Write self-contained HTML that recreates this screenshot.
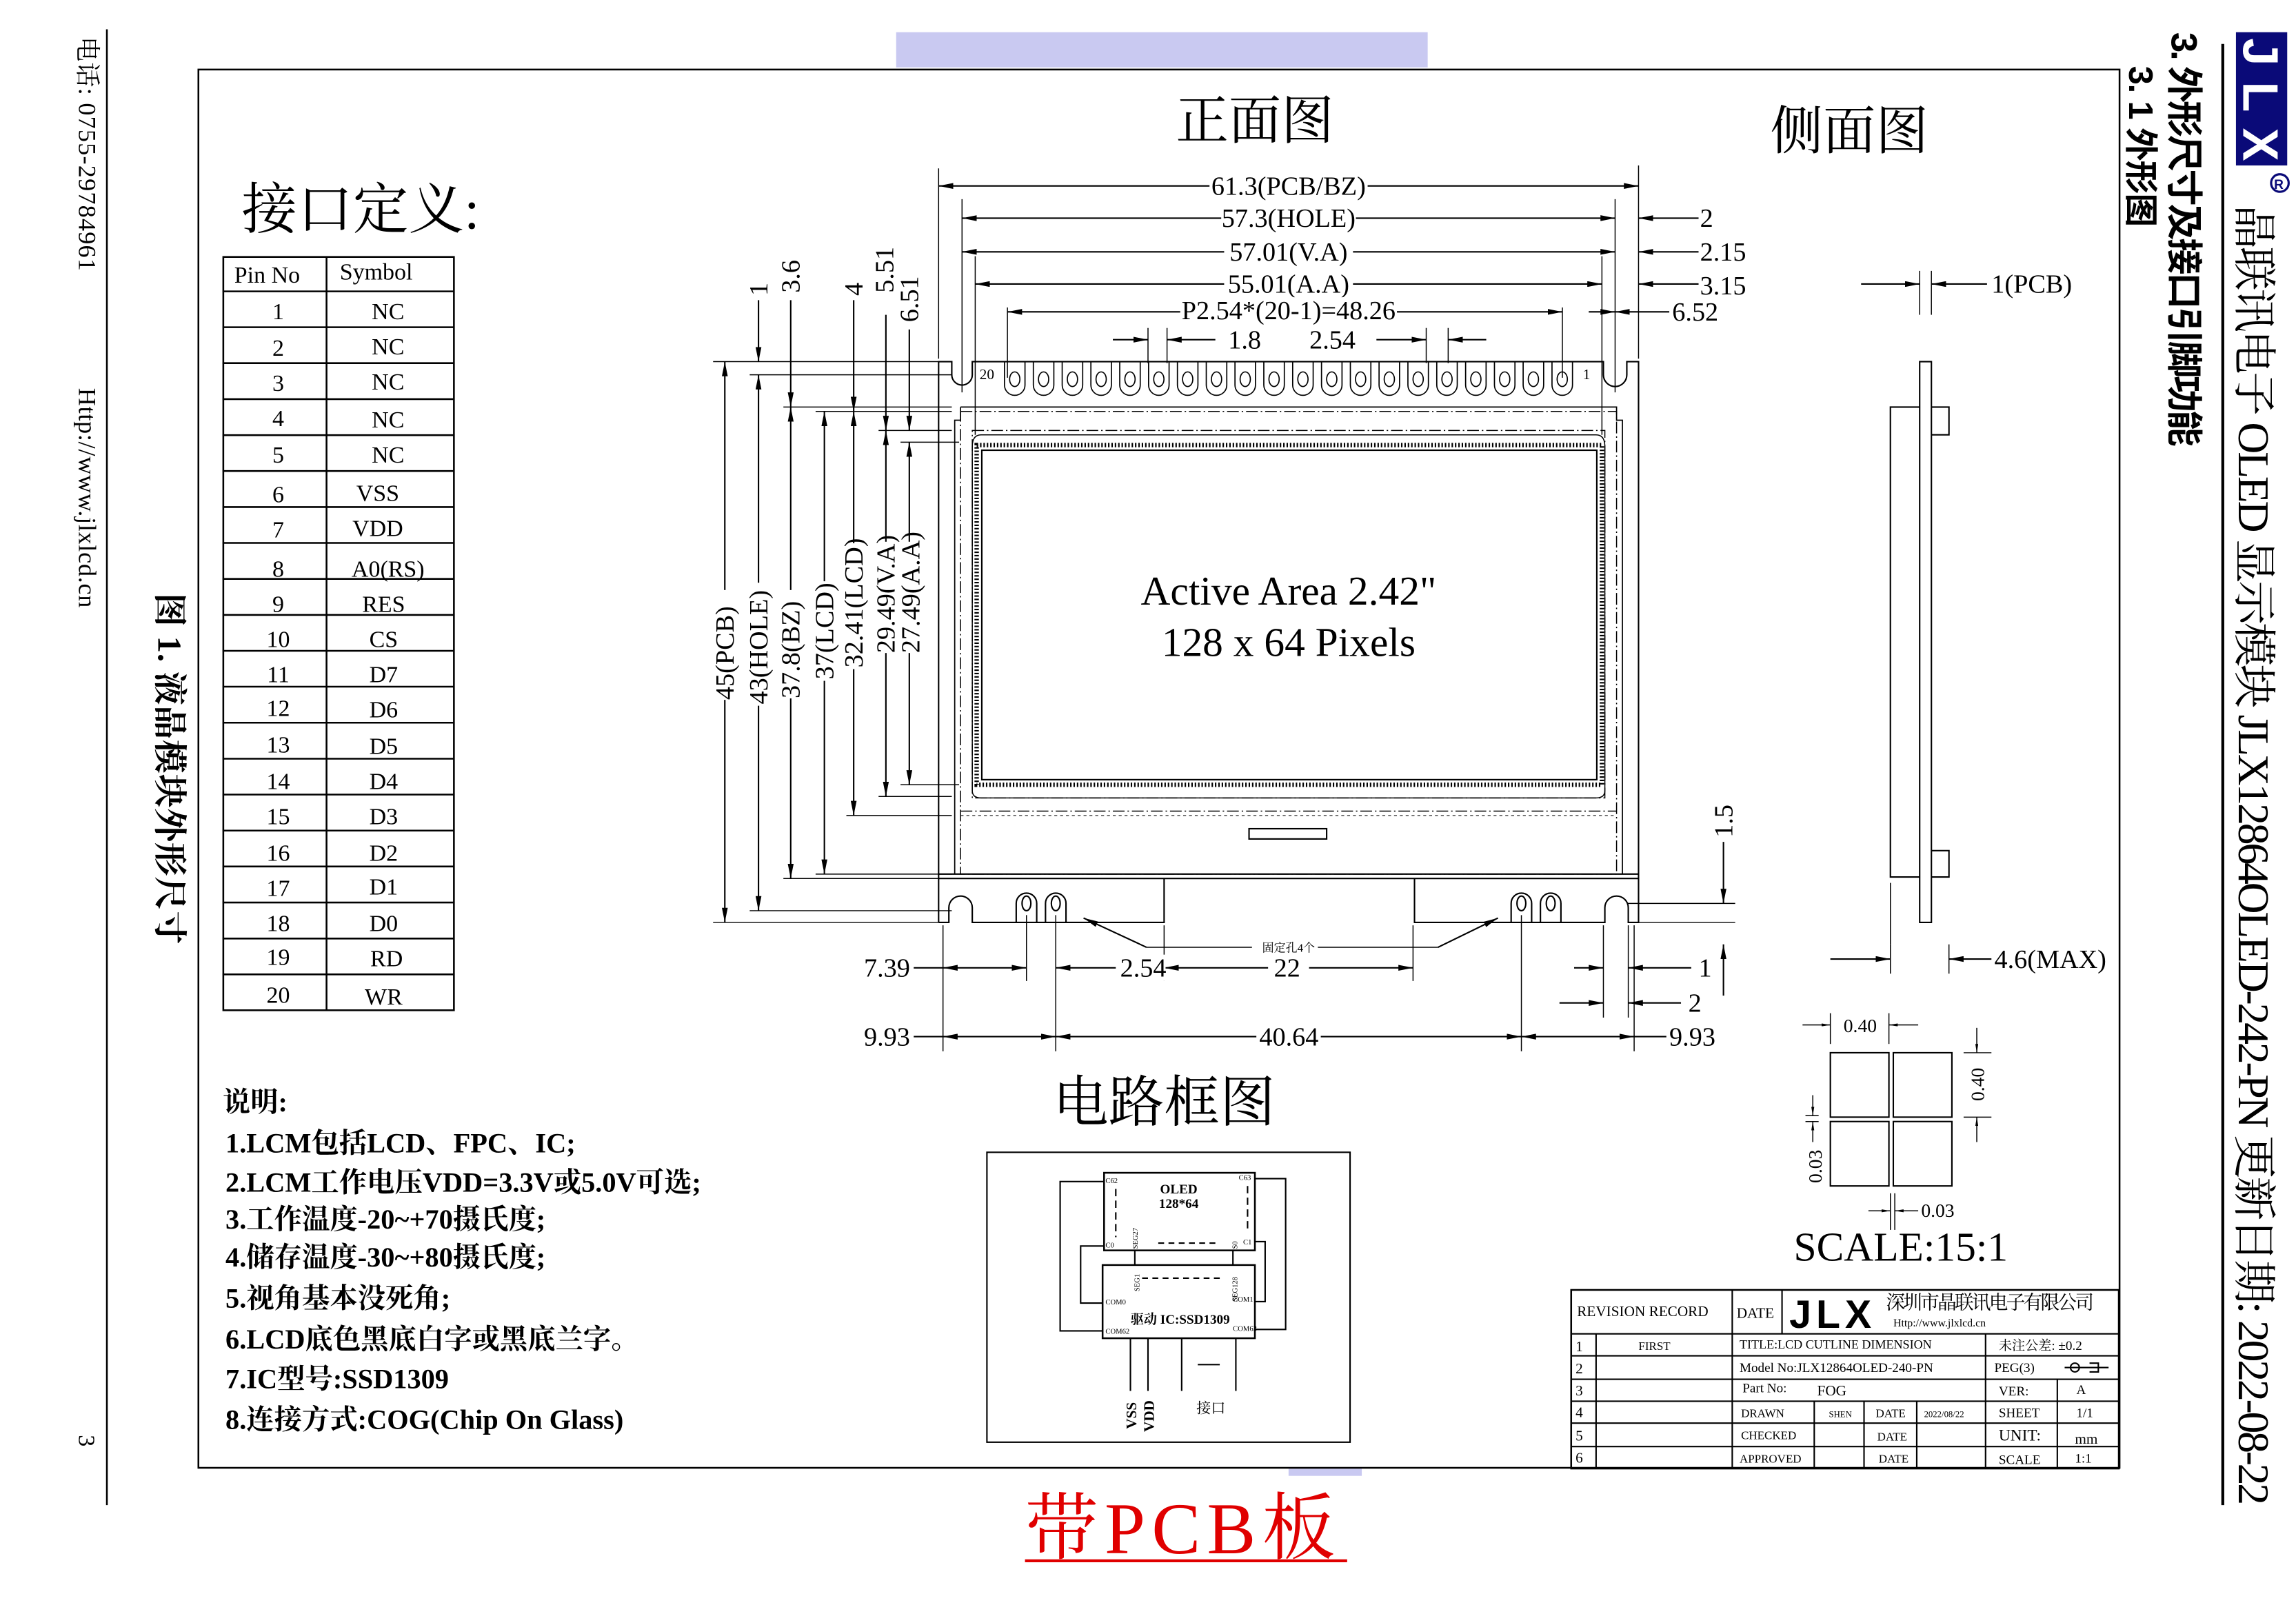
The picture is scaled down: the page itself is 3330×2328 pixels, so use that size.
<!DOCTYPE html>
<html><head><meta charset="utf-8"><style>
html,body{margin:0;padding:0;background:#fff;}
svg{display:block;}
text{font-family:"Liberation Serif","Noto Serif CJK SC",serif;fill:#000;}
.cj{font-family:"Liberation Serif","Noto Serif CJK SC",serif;}
.sa{font-family:"Liberation Sans","Noto Sans CJK SC",sans-serif;}
</style></head><body>
<svg width="3330" height="2328" viewBox="0 0 1568 1096.2" preserveAspectRatio="none" xmlns="http://www.w3.org/2000/svg">
<defs>
<marker id="a" viewBox="0 0 10 4" refX="10" refY="2" markerWidth="10" markerHeight="4" orient="auto-start-reverse" markerUnits="userSpaceOnUse"><path d="M0,0L10,2L0,4z"/></marker>
<marker id="s" viewBox="0 0 6 2" refX="6" refY="1" markerWidth="6" markerHeight="2" orient="auto-start-reverse" markerUnits="userSpaceOnUse"><path d="M0,0L6,1L0,2z"/></marker>
<g id="pin" fill="none" stroke="#000" stroke-width="0.8"><path d="M-7,247V263A7,7 0 0 0 7,263V247"/><ellipse cx="0" cy="259" rx="3.5" ry="5"/></g>
</defs>
<rect width="1568" height="1096.2" fill="#fff"/>
<rect x="612" y="22" width="363" height="24" fill="#c9c9f1"/>
<rect x="880" y="1003" width="50" height="5" fill="#c9c9f1"/>
<rect x="135.5" y="47.5" width="1312" height="955" fill="none" stroke="#000" stroke-width="1.2"/>
<line x1="73" y1="20" x2="73" y2="1028" stroke="#000" stroke-width="1.2"/>
<line x1="1518" y1="30" x2="1518" y2="1028" stroke="#000" stroke-width="2"/>

<text transform="translate(54,25) rotate(90)" font-size="17" textLength="160" class="cj">电话: 0755-29784961</text>
<text transform="translate(54,265) rotate(90)" font-size="17" textLength="150">Http://www.jlxlcd.cn</text>
<text transform="translate(54,980) rotate(90)" font-size="16">3</text>
<text transform="translate(108,405) rotate(90)" font-size="23" font-weight="bold" textLength="240" class="cj">图 1. 液晶模块外形尺寸</text>

<rect x="1527" y="22" width="35" height="91" fill="#0a0a78"/>
<text transform="translate(1532,26) rotate(90)" font-size="34" font-weight="bold" class="sa" style="fill:#fff" textLength="84">JLX</text>
<circle cx="1557" cy="125" r="6" fill="none" stroke="#0a0a78" stroke-width="1.5"/>
<text x="1553" y="129" font-size="9" font-weight="bold" style="fill:#0a0a78" class="sa">R</text>
<text transform="translate(1529,140) rotate(90)" font-size="30" textLength="888" class="cj">晶联讯电子 OLED 显示模块 JLX12864OLED-242-PN 更新日期: 2022-08-22</text>
<text transform="translate(1483,22) rotate(90)" font-size="25" font-weight="bold" textLength="283" class="sa">3. 外形尺寸及接口引脚功能</text>
<text transform="translate(1454,45) rotate(90)" font-size="23" font-weight="bold" textLength="110" class="sa">3. 1 外形图</text>

<text x="165" y="156" font-size="38" class="cj">接口定义:</text>
<g stroke="#000" stroke-width="1.2" fill="none">
<rect x="152.5" y="175.5" width="157.5" height="514.5"/>
<line x1="223" y1="175" x2="223" y2="690"/>
<line x1="152" y1="199" x2="310" y2="199"/>
<line x1="152" y1="223.5" x2="310" y2="223.5"/><line x1="152" y1="248" x2="310" y2="248"/><line x1="152" y1="272.6" x2="310" y2="272.6"/><line x1="152" y1="297.2" x2="310" y2="297.2"/><line x1="152" y1="321.7" x2="310" y2="321.7"/><line x1="152" y1="346.3" x2="310" y2="346.3"/><line x1="152" y1="370.8" x2="310" y2="370.8"/><line x1="152" y1="395.4" x2="310" y2="395.4"/><line x1="152" y1="420" x2="310" y2="420"/><line x1="152" y1="444.5" x2="310" y2="444.5"/><line x1="152" y1="469" x2="310" y2="469"/><line x1="152" y1="493.6" x2="310" y2="493.6"/><line x1="152" y1="518.2" x2="310" y2="518.2"/><line x1="152" y1="542.7" x2="310" y2="542.7"/><line x1="152" y1="567.3" x2="310" y2="567.3"/><line x1="152" y1="591.8" x2="310" y2="591.8"/><line x1="152" y1="616.4" x2="310" y2="616.4"/><line x1="152" y1="641" x2="310" y2="641"/><line x1="152" y1="665.5" x2="310" y2="665.5"/>
</g>
<g font-size="16">
<text x="160" y="193">Pin No</text><text x="232" y="191">Symbol</text>
</g>
<g font-size="16" text-anchor="middle">
<text x="190" y="218">1</text><text x="265" y="218">NC</text>
<text x="190" y="243">2</text><text x="265" y="242">NC</text>
<text x="190" y="267">3</text><text x="265" y="266">NC</text>
<text x="190" y="291">4</text><text x="265" y="292">NC</text>
<text x="190" y="316">5</text><text x="265" y="316">NC</text>
<text x="190" y="343">6</text><text x="258" y="342">VSS</text>
<text x="190" y="367">7</text><text x="258" y="366">VDD</text>
<text x="190" y="394">8</text><text x="265" y="394">A0(RS)</text>
<text x="190" y="418">9</text><text x="262" y="418">RES</text>
<text x="190" y="442">10</text><text x="262" y="442">CS</text>
<text x="190" y="466">11</text><text x="262" y="466">D7</text>
<text x="190" y="489">12</text><text x="262" y="490">D6</text>
<text x="190" y="514">13</text><text x="262" y="515">D5</text>
<text x="190" y="539">14</text><text x="262" y="539">D4</text>
<text x="190" y="563">15</text><text x="262" y="563">D3</text>
<text x="190" y="588">16</text><text x="262" y="588">D2</text>
<text x="190" y="612">17</text><text x="262" y="611">D1</text>
<text x="190" y="636">18</text><text x="262" y="636">D0</text>
<text x="190" y="659">19</text><text x="264" y="660">RD</text>
<text x="190" y="685">20</text><text x="262" y="686">WR</text>
</g>

<g font-size="19" font-weight="bold" class="cj">
<text x="152" y="759">说明:</text>
<text x="154" y="787">1.LCM包括LCD、FPC、IC;</text>
<text x="154" y="814">2.LCM工作电压VDD=3.3V或5.0V可选;</text>
<text x="154" y="839">3.工作温度-20~+70摄氏度;</text>
<text x="154" y="865">4.储存温度-30~+80摄氏度;</text>
<text x="154" y="893">5.视角基本没死角;</text>
<text x="154" y="921">6.LCD底色黑底白字或黑底兰字。</text>
<text x="154" y="948">7.IC型号:SSD1309</text>
<text x="154" y="976">8.连接方式:COG(Chip On Glass)</text>
</g>

<text x="857" y="95" font-size="36" text-anchor="middle" class="cj">正面图</text>
<text x="1263" y="102" font-size="36" text-anchor="middle" class="cj">侧面图</text>
<text x="795" y="766" font-size="38" text-anchor="middle" class="cj">电路框图</text>

<g fill="none" stroke="#000" stroke-width="1">
<path d="M641,630V247H650V256A7,7 0 0 0 664,256V247H1095V256A8,8 0 0 0 1111,256V247H1119V630H1112V620A8,8 0 0 0 1096,620V630H966V600M795,600V630H664V620A8,8 0 0 0 648,620V630H641"/>
<line x1="641" y1="597" x2="1119" y2="597"/>
<line x1="641" y1="600" x2="1119" y2="600"/>
<path d="M656,278H1104V287H1108V597M656,278V287H652V597" stroke-width="0.8"/>
<rect x="656" y="281" width="448" height="316" stroke-dasharray="8,2,1,2" stroke-width="0.7"/>
<path d="M664,294H1096V545H664Z" stroke-dasharray="8,2,1,2" stroke-width="0.7"/>
<path d="M670,297H1090Q1096,297 1096,305V540Q1096,545 1090,545H670Q664,545 664,540V305Q664,297 670,297Z" stroke-width="0.7"/>
<rect x="667" y="304" width="427" height="232" stroke-width="3" stroke-dasharray="1,1.3"/>
<rect x="670.5" y="307.5" width="420" height="225" stroke-width="1"/>
<line x1="656" y1="554" x2="1104" y2="554" stroke-dasharray="8,2,1,2" stroke-width="0.7"/>
<line x1="656" y1="557" x2="1104" y2="557" stroke-dasharray="2,2" stroke-width="0.5"/>
<rect x="853" y="566" width="53" height="7"/>
<ellipse cx="701" cy="617" rx="3" ry="5"/><path d="M694,630V617A7,7 0 0 1 708,617V630"/>
<ellipse cx="721" cy="617" rx="3" ry="5"/><path d="M714,630V617A7,7 0 0 1 728,617V630"/>
<ellipse cx="1039" cy="617" rx="3" ry="5"/><path d="M1032,630V617A7,7 0 0 1 1046,617V630"/>
<ellipse cx="1059" cy="617" rx="3" ry="5"/><path d="M1052,630V617A7,7 0 0 1 1066,617V630"/>
</g>
<use href="#pin" x="693"/><use href="#pin" x="712.7"/><use href="#pin" x="732.4"/><use href="#pin" x="752"/><use href="#pin" x="771.7"/><use href="#pin" x="791.4"/><use href="#pin" x="811.1"/><use href="#pin" x="830.8"/><use href="#pin" x="850.4"/><use href="#pin" x="870.1"/><use href="#pin" x="889.8"/><use href="#pin" x="909.5"/><use href="#pin" x="929.2"/><use href="#pin" x="948.8"/><use href="#pin" x="968.5"/><use href="#pin" x="988.2"/><use href="#pin" x="1007.9"/><use href="#pin" x="1027.6"/><use href="#pin" x="1047.2"/><use href="#pin" x="1066.9"/>
<text x="669" y="259" font-size="10">20</text>
<text x="1081" y="259" font-size="10">1</text>
<text x="880" y="413" font-size="28" text-anchor="middle">Active Area 2.42"</text>
<text x="880" y="448" font-size="28" text-anchor="middle">128 x 64 Pixels</text>

<g stroke="#000" stroke-width="0.7">
<line x1="641" y1="115" x2="641" y2="245"/><line x1="1119" y1="113" x2="1119" y2="245"/>
<line x1="657" y1="136" x2="657" y2="268"/><line x1="1103" y1="136" x2="1103" y2="268"/>
<line x1="666" y1="175" x2="666" y2="297"/><line x1="1094" y1="175" x2="1094" y2="297"/>
<line x1="688" y1="210" x2="688" y2="258"/><line x1="1067" y1="210" x2="1067" y2="258"/>
<line x1="784" y1="224" x2="784" y2="248"/><line x1="797" y1="224" x2="797" y2="248"/>
<line x1="974" y1="224" x2="974" y2="248"/><line x1="989" y1="224" x2="989" y2="248"/>
</g>
<g stroke="#000" stroke-width="1" marker-start="url(#a)" marker-end="url(#a)">
<line x1="641" y1="127" x2="1119" y2="127"/>
<line x1="657" y1="149" x2="1103" y2="149"/>
<line x1="657" y1="172" x2="1103" y2="172"/>
<line x1="666" y1="194" x2="1094" y2="194"/>
<line x1="688" y1="213" x2="1067" y2="213"/>
</g>
<g stroke="#000" stroke-width="1" marker-end="url(#a)">
<line x1="1160" y1="149" x2="1119" y2="149"/>
<line x1="1160" y1="172" x2="1119" y2="172"/>
<line x1="1160" y1="194" x2="1119" y2="194"/>
<line x1="1140" y1="213" x2="1103" y2="213"/>
<line x1="1085" y1="213" x2="1103" y2="213"/>
<line x1="760" y1="232" x2="784" y2="232"/>
<line x1="830" y1="232" x2="797" y2="232"/>
<line x1="940" y1="232" x2="974" y2="232"/>
<line x1="1015" y1="232" x2="989" y2="232"/>
</g>
<g font-size="18" text-anchor="middle">
<rect x="826" y="117" width="108" height="20" fill="#fff"/><text x="880" y="133">61.3(PCB/BZ)</text>
<rect x="834" y="139" width="92" height="20" fill="#fff"/><text x="880" y="155">57.3(HOLE)</text>
<rect x="836" y="162" width="88" height="20" fill="#fff"/><text x="880" y="178">57.01(V.A)</text>
<rect x="836" y="184" width="88" height="20" fill="#fff"/><text x="880" y="200">55.01(A.A)</text>
<rect x="806" y="203" width="148" height="19" fill="#fff"/><text x="880" y="218">P2.54*(20-1)=48.26</text>
<rect x="838" y="222" width="24" height="19" fill="#fff"/><text x="850" y="238">1.8</text>
<text x="910" y="238">2.54</text>
</g>
<g font-size="18">
<text x="1161" y="155">2</text><text x="1161" y="178">2.15</text><text x="1161" y="201">3.15</text><text x="1142" y="219">6.52</text>
</g>

<g stroke="#000" stroke-width="0.7">
<line x1="487" y1="247" x2="641" y2="247"/><line x1="487" y1="630" x2="641" y2="630"/>
<line x1="512" y1="256" x2="650" y2="256"/><line x1="512" y1="622" x2="650" y2="622"/>
<line x1="535" y1="278" x2="650" y2="278"/><line x1="535" y1="600" x2="650" y2="600"/>
<line x1="557" y1="281" x2="650" y2="281"/><line x1="557" y1="597" x2="650" y2="597"/>
<line x1="578" y1="557" x2="650" y2="557"/>
<line x1="600" y1="294" x2="650" y2="294"/><line x1="600" y1="544" x2="650" y2="544"/>
<line x1="615" y1="302" x2="655" y2="302"/><line x1="615" y1="536" x2="655" y2="536"/>
</g>
<g stroke="#000" stroke-width="1" marker-start="url(#a)" marker-end="url(#a)">
<line x1="495" y1="247" x2="495" y2="630"/>
<line x1="518" y1="256" x2="518" y2="622"/>
<line x1="540" y1="278" x2="540" y2="600"/>
<line x1="563" y1="281" x2="563" y2="597"/>
<line x1="583" y1="281" x2="583" y2="557"/>
<line x1="605" y1="294" x2="605" y2="544"/>
<line x1="621" y1="302" x2="621" y2="536"/>
</g>
<g stroke="#000" stroke-width="1" marker-end="url(#a)">
<line x1="518" y1="205" x2="518" y2="247"/>
<line x1="540" y1="205" x2="540" y2="278"/>
<line x1="583" y1="205" x2="583" y2="281"/>
<line x1="605" y1="215" x2="605" y2="294"/>
<line x1="621" y1="225" x2="621" y2="294"/>
</g>
<g font-size="18">
<rect x="485" y="403" width="20" height="75" fill="#fff"/><text transform="translate(501,478) rotate(-90)">45(PCB)</text>
<rect x="508" y="398" width="20" height="84" fill="#fff"/><text transform="translate(524,481) rotate(-90)">43(HOLE)</text>
<rect x="530" y="403" width="20" height="74" fill="#fff"/><text transform="translate(546,477) rotate(-90)">37.8(BZ)</text>
<rect x="553" y="397" width="20" height="68" fill="#fff"/><text transform="translate(569,464) rotate(-90)">37(LCD)</text>
<rect x="573" y="371" width="20" height="86" fill="#fff"/><text transform="translate(589,456) rotate(-90)">32.41(LCD)</text>
<rect x="595" y="370" width="20" height="76" fill="#fff"/><text transform="translate(611,446) rotate(-90)">29.49(V.A)</text>
<rect x="611" y="370" width="20" height="76" fill="#fff"/><text transform="translate(628,446) rotate(-90)">27.49(A.A)</text>
<text transform="translate(524,202) rotate(-90)">1</text>
<text transform="translate(546,200) rotate(-90)">3.6</text>
<text transform="translate(589,202) rotate(-90)">4</text>
<text transform="translate(610,200) rotate(-90)">5.51</text>
<text transform="translate(627,220) rotate(-90)">6.51</text>
</g>

<g stroke="#000" stroke-width="0.7">
<line x1="1111" y1="617" x2="1185" y2="617"/><line x1="1119" y1="630" x2="1185" y2="630"/>
<line x1="1177" y1="680" x2="1177" y2="645" stroke-width="1" marker-end="url(#a)"/>
<line x1="1177" y1="575" x2="1177" y2="617" stroke-width="1" marker-end="url(#a)"/>
</g>
<text transform="translate(1183,572) rotate(-90)" font-size="18">1.5</text>

<g stroke="#000" stroke-width="0.7">
<line x1="644" y1="632" x2="644" y2="718"/>
<line x1="701" y1="625" x2="701" y2="670"/>
<line x1="721" y1="625" x2="721" y2="718"/>
<line x1="795" y1="632" x2="795" y2="670"/>
<line x1="965" y1="632" x2="965" y2="670"/>
<line x1="1039" y1="625" x2="1039" y2="718"/>
<line x1="1095" y1="632" x2="1095" y2="695"/>
<line x1="1112" y1="632" x2="1112" y2="695"/>
<line x1="1116" y1="632" x2="1116" y2="718"/>
<line x1="783" y1="647" x2="855" y2="647"/><line x1="900" y1="647" x2="982" y2="647"/>
</g>
<g stroke="#000" stroke-width="1">
<line x1="783" y1="647" x2="740" y2="627" marker-end="url(#a)"/>
<line x1="982" y1="647" x2="1023" y2="627" marker-end="url(#a)"/>
<line x1="624" y1="661" x2="644" y2="661"/>
<line x1="644" y1="661" x2="701" y2="661" marker-start="url(#a)" marker-end="url(#a)"/>
<line x1="762" y1="661" x2="721" y2="661" marker-end="url(#a)"/>
<line x1="795" y1="661" x2="965" y2="661" marker-start="url(#a)" marker-end="url(#a)"/>
<line x1="1075" y1="661" x2="1095" y2="661" marker-end="url(#a)"/>
<line x1="1155" y1="661" x2="1112" y2="661" marker-end="url(#a)"/>
<line x1="1065" y1="685" x2="1095" y2="685" marker-end="url(#a)"/>
<line x1="1148" y1="685" x2="1112" y2="685" marker-end="url(#a)"/>
<line x1="624" y1="708" x2="644" y2="708"/>
<line x1="644" y1="708" x2="721" y2="708" marker-start="url(#a)" marker-end="url(#a)"/>
<line x1="721" y1="708" x2="1039" y2="708" marker-start="url(#a)" marker-end="url(#a)"/>
<line x1="1039" y1="708" x2="1116" y2="708" marker-start="url(#a)" marker-end="url(#a)"/>
<line x1="1116" y1="708" x2="1138" y2="708"/>
</g>
<text x="880" y="650" font-size="8" text-anchor="middle" class="cj">固定孔4个</text>
<g font-size="18">
<text x="590" y="667">7.39</text>
<rect x="764" y="652" width="32" height="18" fill="#fff"/><text x="765" y="667">2.54</text>
<rect x="866" y="652" width="28" height="18" fill="#fff"/><text x="870" y="667">22</text>
<text x="1160" y="667">1</text><text x="1153" y="691">2</text>
<text x="590" y="714">9.93</text>
<rect x="858" y="699" width="44" height="18" fill="#fff"/><text x="860" y="714">40.64</text>
<text x="1140" y="714">9.93</text>
</g>

<g fill="none" stroke="#000" stroke-width="1">
<rect x="1311" y="247" width="8" height="383"/>
<path d="M1311,278H1291V599H1311"/>
<path d="M1319,278H1331V297H1319M1319,581H1331V599H1319"/>
<line x1="1311" y1="185" x2="1311" y2="215" stroke-width="0.7"/>
<line x1="1319" y1="185" x2="1319" y2="215" stroke-width="0.7"/>
<line x1="1291" y1="645" x2="1291" y2="665" stroke-width="0.7"/>
<line x1="1331" y1="645" x2="1331" y2="665" stroke-width="0.7"/>
<line x1="1291" y1="603" x2="1291" y2="645" stroke-width="0.7"/>
</g>
<g stroke="#000" stroke-width="1" marker-end="url(#a)">
<line x1="1271" y1="194" x2="1311" y2="194"/>
<line x1="1357" y1="194" x2="1319" y2="194"/>
<line x1="1250" y1="655" x2="1291" y2="655"/>
<line x1="1360" y1="655" x2="1331" y2="655"/>
</g>
<text x="1360" y="200" font-size="18">1(PCB)</text>
<text x="1362" y="661" font-size="18">4.6(MAX)</text>

<g fill="none" stroke="#000" stroke-width="1">
<rect x="1250" y="719" width="40" height="44"/><rect x="1293" y="719" width="40" height="44"/>
<rect x="1250" y="766" width="40" height="44"/><rect x="1293" y="766" width="40" height="44"/>
</g>
<g stroke="#000" stroke-width="0.7">
<line x1="1250" y1="692" x2="1250" y2="713"/><line x1="1290" y1="692" x2="1290" y2="713"/>
<line x1="1341" y1="719" x2="1360" y2="719"/><line x1="1341" y1="763" x2="1360" y2="763"/>
<line x1="1233" y1="762" x2="1242" y2="762"/><line x1="1233" y1="766" x2="1242" y2="766"/>
<line x1="1291" y1="815" x2="1291" y2="840"/><line x1="1294" y1="815" x2="1294" y2="840"/>
</g>
<g stroke="#000" stroke-width="0.7" marker-end="url(#s)">
<line x1="1231" y1="700" x2="1250" y2="700"/><line x1="1310" y1="700" x2="1290" y2="700"/>
<line x1="1350" y1="702" x2="1350" y2="719"/><line x1="1350" y1="780" x2="1350" y2="763"/>
<line x1="1238" y1="748" x2="1238" y2="762"/><line x1="1238" y1="780" x2="1238" y2="766"/>
<line x1="1276" y1="827" x2="1291" y2="827"/><line x1="1310" y1="827" x2="1294" y2="827"/>
</g>
<g font-size="13">
<text x="1259" y="705">0.40</text>
<text transform="translate(1355,752) rotate(-90)">0.40</text>
<text transform="translate(1244,808) rotate(-90)">0.03</text>
<text x="1312" y="831">0.03</text>
</g>
<text x="1225" y="861" font-size="28">SCALE:15:1</text>

<g fill="none" stroke="#000" stroke-width="1">
<rect x="674" y="787" width="248" height="198"/>
<rect x="754" y="801" width="103" height="53" stroke-width="1.2"/>
<rect x="753" y="864" width="104" height="50" stroke-width="1.2"/>
<path d="M754,807H724V909H753"/>
<path d="M754,851H738V890H753"/>
<path d="M857,805H878V908H857"/>
<path d="M857,848H864V889H857"/>
<line x1="775" y1="854" x2="775" y2="864"/><line x1="842" y1="854" x2="842" y2="864"/>
<line x1="772" y1="914" x2="772" y2="950"/><line x1="784" y1="914" x2="784" y2="950"/>
<line x1="807" y1="914" x2="807" y2="950"/><line x1="844" y1="914" x2="844" y2="950"/>
<line x1="818" y1="932" x2="833" y2="932"/>
<line x1="762" y1="812" x2="762" y2="845" stroke-dasharray="5,3"/>
<line x1="852" y1="810" x2="852" y2="842" stroke-dasharray="5,3"/>
<line x1="791" y1="849" x2="833" y2="849" stroke-dasharray="4,3"/>
<line x1="780" y1="873" x2="833" y2="873" stroke-dasharray="4,3"/>
</g>
<g font-size="5">
<text x="755" y="808">C62</text><text x="846" y="806">C63</text>
<text x="755" y="852">C0</text><text x="849" y="850">C1</text>
<text x="755" y="891">COM0</text><text x="842" y="889">COM1</text>
<text x="755" y="911">COM62</text><text x="842" y="909">COM63</text>
<text transform="translate(777,853) rotate(-90)">SEG27</text>
<text transform="translate(845,853) rotate(-90)">S0</text>
<text transform="translate(778,882) rotate(-90)">SEG1</text>
<text transform="translate(845,889) rotate(-90)">SEG128</text>
</g>
<g font-size="9" font-weight="bold" text-anchor="middle">
<text x="805" y="815">OLED</text><text x="805" y="825">128*64</text>
</g>
<text x="806" y="904" font-size="9" font-weight="bold" text-anchor="middle" class="cj">驱动 IC:SSD1309</text>
<text transform="translate(776,976) rotate(-90)" font-size="10" font-weight="bold">VSS</text>
<text transform="translate(788,978) rotate(-90)" font-size="10" font-weight="bold">VDD</text>
<text x="817" y="965" font-size="10" class="cj">接口</text>

<g fill="none" stroke="#000" stroke-width="1">
<rect x="1073" y="881" width="374" height="122" stroke-width="1.2"/>
<line x1="1073" y1="911" x2="1447" y2="911"/>
<line x1="1073" y1="926" x2="1447" y2="926"/>
<line x1="1073" y1="942" x2="1447" y2="942"/>
<line x1="1073" y1="957" x2="1447" y2="957"/>
<line x1="1073" y1="972" x2="1447" y2="972"/>
<line x1="1073" y1="988" x2="1447" y2="988"/>
<line x1="1090" y1="911" x2="1090" y2="1003"/>
<line x1="1183" y1="881" x2="1183" y2="1003"/>
<line x1="1217" y1="881" x2="1217" y2="911"/>
<line x1="1239" y1="957" x2="1239" y2="1003"/>
<line x1="1273" y1="957" x2="1273" y2="1003"/>
<line x1="1309" y1="957" x2="1309" y2="1003"/>
<line x1="1356" y1="911" x2="1356" y2="1003"/>
<line x1="1405" y1="942" x2="1405" y2="1003"/>
</g>
<g font-size="10">
<text x="1077" y="899">REVISION RECORD</text>
<text x="1186" y="900">DATE</text>
<text x="1076" y="923">1</text><text x="1076" y="938">2</text><text x="1076" y="953">3</text><text x="1076" y="968">4</text><text x="1076" y="984">5</text><text x="1076" y="999">6</text>
<text x="1119" y="922" font-size="8">FIRST</text>
<text x="1188" y="921" font-size="8.5">TITLE:LCD CUTLINE DIMENSION</text>
<text x="1188" y="937" font-size="9">Model No:JLX12864OLED-240-PN</text>
<text x="1190" y="951" font-size="9">Part No:</text><text x="1241" y="953">FOG</text>
<text x="1189" y="968" font-size="8">DRAWN</text><text x="1249" y="968" font-size="6">SHEN</text>
<text x="1281" y="968" font-size="8">DATE</text><text x="1314" y="968" font-size="6">2022/08/22</text>
<text x="1189" y="983" font-size="8">CHECKED</text><text x="1282" y="984" font-size="8">DATE</text>
<text x="1188" y="999" font-size="8">APPROVED</text><text x="1283" y="999" font-size="8">DATE</text>
<text x="1365" y="922" font-size="9" class="cj">未注公差: ±0.2</text>
<text x="1362" y="937" font-size="9">PEG(3)</text>
<text x="1365" y="953" font-size="9">VER:</text><text x="1418" y="952" font-size="9">A</text>
<text x="1365" y="968" font-size="9">SHEET</text><text x="1418" y="968" font-size="9">1/1</text>
<text x="1365" y="984" font-size="11">UNIT:</text><text x="1417" y="986" font-size="10">mm</text>
<text x="1365" y="1000" font-size="9">SCALE</text><text x="1417" y="999" font-size="9">1:1</text>
<text x="1222" y="907" font-size="27" font-weight="900" class="sa" textLength="56">JLX</text>
<text x="1288" y="894" font-size="13" class="cj" textLength="142">深圳市晶联讯电子有限公司</text>
<text x="1293" y="906" font-size="7.5">Http://www.jlxlcd.cn</text>
</g>
<g stroke="#000" stroke-width="1" fill="none"><line x1="1410" y1="934" x2="1440" y2="934"/><circle cx="1417" cy="934" r="3"/><path d="M1427,931H1433V937H1427"/></g>

<text x="700" y="1061" font-size="50" style="fill:#e00000" class="cj" textLength="212">带PCB板</text>
<line x1="700" y1="1066" x2="920" y2="1066" stroke="#e00000" stroke-width="2"/>
</svg>
</body></html>
